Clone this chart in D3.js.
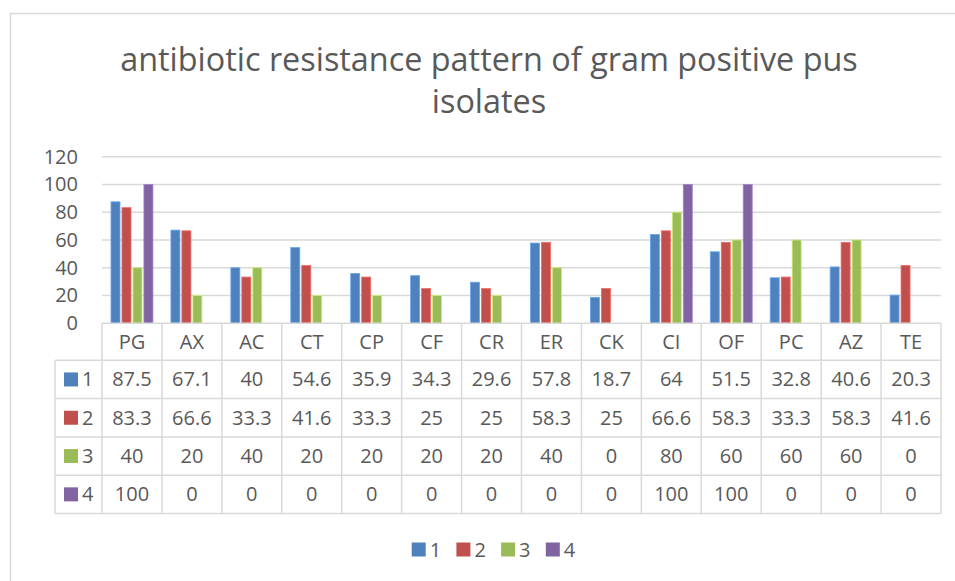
<!DOCTYPE html>
<html>
<head>
<meta charset="utf-8">
<script src="https://cdn.jsdelivr.net/npm/d3@7"></script>
<style>
  body { margin: 0; background: #fff; }
  text { font-family: 'Open Sans', 'Noto Sans', sans-serif; fill: #595959; }
</style>
</head>
<body>
<div id="chartbox"></div>
<script>
const categories = ['PG', 'AX', 'AC', 'CT', 'CP', 'CF', 'CR', 'ER', 'CK', 'CI', 'OF', 'PC', 'AZ', 'TE']
const seriesNames = ['1', '2', '3', '4']
const series1 = [87.5, 67.1, 40, 54.6, 35.9, 34.3, 29.6, 57.8, 18.7, 64, 51.5, 32.8, 40.6, 20.3]
const series2 = [83.3, 66.6, 33.3, 41.6, 33.3, 25, 25, 58.3, 25, 66.6, 58.3, 33.3, 58.3, 41.6]
const series3 = [40, 20, 40, 20, 20, 20, 20, 40, 0, 80, 60, 60, 60, 0]
const series4 = [100, 0, 0, 0, 0, 0, 0, 0, 0, 100, 100, 0, 0, 0]
const yTicks = [0, 20, 40, 60, 80, 100, 120]
const title = ['antibiotic resistance pattern of gram positive pus', 'isolates']

const WIDTH = 955
const HEIGHT = 581
const colors = ['#4f81bd', '#c0504d', '#9bbb59', '#8064a2']
const GRID = '#d9d9d9'
const FONT = '20px'

const plot = { left: 102, right: 941, top: 156.7, bottom: 323.3 }
const table = { keyLeft: 55, rowH: 38.3, headH: 37 }

const allSeries = [series1, series2, series3, series4]

const svg = d3.select('#chartbox')
  .append('svg')
  .attr('width', WIDTH)
  .attr('height', HEIGHT)

// chart border
svg.append('rect')
  .attr('x', 10.5).attr('y', 13.5)
  .attr('width', WIDTH + 10).attr('height', HEIGHT + 10)
  .attr('fill', '#fff')
  .attr('stroke', GRID)
  .attr('stroke-width', 1.5)

// title, sized to the reference width
const titleG = svg.append('g')
const t1 = titleG.append('text')
  .attr('x', 489).attr('y', 71)
  .attr('text-anchor', 'middle')
  .style('font-size', '30px')
  .text(title[0])
const fitSize = 30 * 738 / t1.node().getComputedTextLength()
t1.style('font-size', fitSize + 'px')
titleG.append('text')
  .attr('x', 489).attr('y', 113)
  .attr('text-anchor', 'middle')
  .style('font-size', fitSize + 'px')
  .text(title[1])

const x = d3.scaleBand()
  .domain(categories)
  .range([plot.left, plot.right])

const xInner = d3.scaleBand()
  .domain(seriesNames)
  .range([9, x.bandwidth() - 9])
  .paddingInner(0.18)

const y = d3.scaleLinear()
  .domain([0, 120])
  .range([plot.bottom, plot.top])

// gridlines
svg.append('g')
  .selectAll('line')
  .data(yTicks.filter(d => d > 0))
  .enter()
  .append('line')
  .attr('x1', plot.left).attr('x2', plot.right)
  .attr('y1', d => y(d)).attr('y2', d => y(d))
  .attr('stroke', GRID)
  .attr('stroke-width', 1.5)

// y axis labels
const yAxis = d3.axisLeft(y).tickValues(yTicks).tickSize(0).tickPadding(0)
svg.append('g')
  .attr('transform', 'translate(78,0)')
  .call(yAxis)
  .call(g => g.select('.domain').remove())
  .call(g => g.selectAll('text')
    .attr('fill', '#595959')
    .style('font-size', FONT)
    .style('font-family', "'Open Sans', sans-serif"))

// bars (zero values are not drawn)
svg.append('g')
  .selectAll('g')
  .data(allSeries)
  .enter()
  .append('g')
  .attr('fill', (d, i) => colors[i])
  .attr('stroke', (d, i) => d3.color(colors[i]).brighter(0.7))
  .attr('stroke-width', 0.8)
  .each(function (vals, si) {
    const pts = vals.map((v, i) => ({ cat: categories[i], v: v })).filter(d => d.v > 0)
    d3.select(this)
      .selectAll('rect')
      .data(pts)
      .enter()
      .append('rect')
      .attr('x', d => x(d.cat) + xInner(seriesNames[si]))
      .attr('width', xInner.bandwidth())
      .attr('y', d => y(d.v))
      .attr('height', d => y(0) - y(d.v))
  })

// data table
const rowTop = i => plot.bottom + table.headH + i * table.rowH
const tableBottom = rowTop(allSeries.length)
const lines = svg.append('g')
  .attr('stroke', GRID)
  .attr('stroke-width', 1.5)

lines.append('line')
  .attr('x1', plot.left).attr('x2', plot.right)
  .attr('y1', plot.bottom).attr('y2', plot.bottom)

lines.selectAll('.hrow')
  .data(d3.range(allSeries.length + 1))
  .enter()
  .append('line')
  .attr('x1', table.keyLeft).attr('x2', plot.right)
  .attr('y1', d => rowTop(d)).attr('y2', d => rowTop(d))

lines.selectAll('.vcol')
  .data(categories)
  .enter()
  .append('line')
  .attr('x1', d => x(d)).attr('x2', d => x(d))
  .attr('y1', plot.bottom).attr('y2', tableBottom)

lines.append('line')
  .attr('x1', plot.right).attr('x2', plot.right)
  .attr('y1', plot.bottom).attr('y2', tableBottom)

lines.append('line')
  .attr('x1', table.keyLeft).attr('x2', table.keyLeft)
  .attr('y1', rowTop(0)).attr('y2', tableBottom)

// header labels
svg.append('g')
  .selectAll('text')
  .data(categories)
  .enter()
  .append('text')
  .attr('x', d => x(d) + x.bandwidth() / 2)
  .attr('y', plot.bottom + table.headH / 2)
  .attr('dy', '0.35em')
  .attr('text-anchor', 'middle')
  .style('font-size', FONT)
  .text(d => d)

// rows
const rows = svg.append('g')
  .selectAll('g')
  .data(allSeries)
  .enter()
  .append('g')
  .attr('transform', (d, i) => 'translate(0,' + (rowTop(i) + table.rowH / 2) + ')')

rows.append('rect')
  .attr('x', 64).attr('y', -7)
  .attr('width', 14).attr('height', 14)
  .attr('fill', (d, i) => colors[i])

rows.append('text')
  .attr('x', 82).attr('dy', '0.35em')
  .style('font-size', FONT)
  .text((d, i) => seriesNames[i])

rows.selectAll('.val')
  .data(d => d)
  .enter()
  .append('text')
  .attr('x', (d, i) => x(categories[i]) + x.bandwidth() / 2)
  .attr('dy', '0.35em')
  .attr('text-anchor', 'middle')
  .style('font-size', FONT)
  .text(d => d)

// legend
const legend = svg.append('g')
  .attr('transform', 'translate(411.7,549.5)')
  .selectAll('g')
  .data(seriesNames)
  .enter()
  .append('g')
  .attr('transform', (d, i) => 'translate(' + i * 44.7 + ',0)')

legend.append('rect')
  .attr('y', -7).attr('width', 14).attr('height', 14)
  .attr('fill', (d, i) => colors[i])

legend.append('text')
  .attr('x', 18).attr('dy', '0.35em')
  .style('font-size', FONT)
  .text(d => d)
</script>
</body>
</html>
